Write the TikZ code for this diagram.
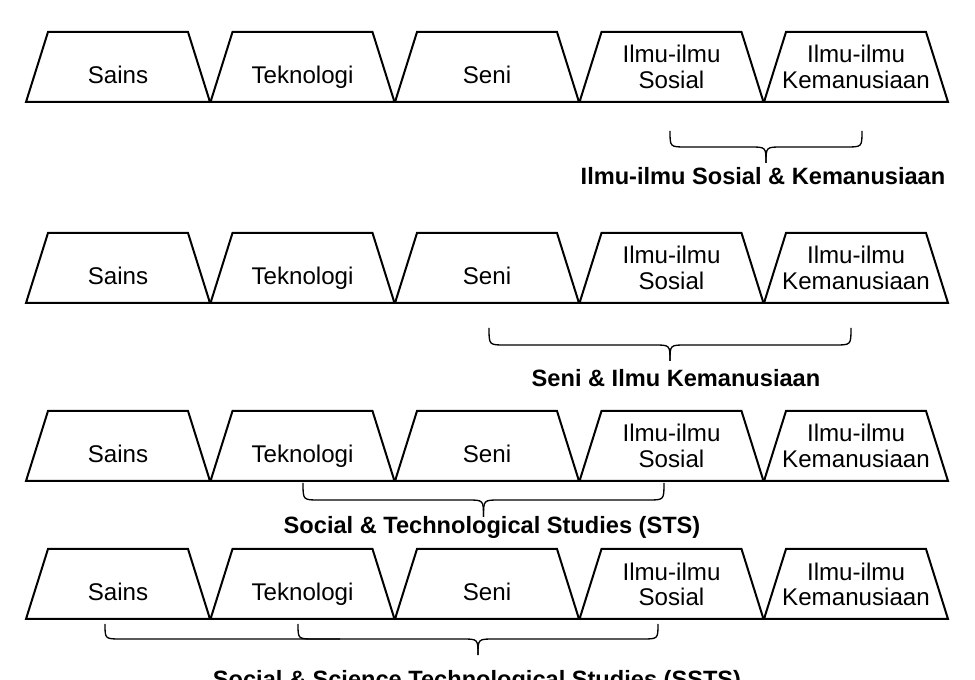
\documentclass[tikz,border=0pt]{standalone}
\usepackage{fontspec}
\setmainfont{Liberation Sans}
\newcommand\wordbrace[6]{% x1, x2, y0 (arm top), ym (horizontal), xm, yt (tip)
  \draw[brc] (#1,#3) .. controls (#1,#4) .. ({#1+16},#4) -- ({#5-16},#4) .. controls (#5,#4) .. (#5,#6);
  \draw[brc] (#2,#3) .. controls (#2,#4) .. ({#2-16},#4) -- ({#5+16},#4) .. controls (#5,#4) .. (#5,#6);
}
\begin{document}
\begin{tikzpicture}[x=0.75pt,y=-0.75pt,
  trap/.style={line width=1.5pt, line join=miter},
  lbl/.style={font=\fontsize{18.1}{19.5}\selectfont, inner sep=0pt, align=center, anchor=base},
  captxt/.style={font=\fontsize{17.7}{20}\selectfont\bfseries, inner sep=0pt, anchor=base},
  brc/.style={line width=1pt}]
\clip (0,0) rectangle (975,680);
\fill[white] (0,0) rectangle (975,680);
\foreach \r/\t in {1/32,2/233,3/411,4/549} {
  \foreach \i/\txt/\two in {1/Sains/0, 2/Teknologi/0, 3/Seni/0, 4/{Ilmu-ilmu\\Sosial}/1, 5/{Ilmu-ilmu\\Kemanusiaan}/1} {
    \pgfmathsetmacro\xl{26+184.5*(\i-1)}
    \pgfmathsetmacro\ty{\t+52+5*\two}
    \draw[trap] (\xl,\t+70) -- (\xl+22,\t) -- (\xl+162,\t) -- (\xl+184,\t+70) -- cycle;
    \node[lbl] (r\r-\i) at (\xl+92,\ty) {\txt};
  }
}
% braces
\wordbrace{670}{862}{131}{147}{766}{163}
\wordbrace{489}{851}{328}{345}{670}{361}
\wordbrace{303}{664}{483}{500}{483.5}{517}
\wordbrace{298}{658}{624}{639}{478}{655}
\draw[brc] (105,624) .. controls (105,639) .. (121,639) -- (340,639);
% captions
\node[captxt] (c1) at (763,185) {Ilmu-ilmu Sosial \& Kemanusiaan};
\node[captxt] (c2) at (676,387) {Seni \& Ilmu Kemanusiaan};
\node[captxt] (c3) at (492,534) {Social \& Technological Studies (STS)};
\node[captxt] (c4) at (477,687) {Social \& Science Technological Studies (SSTS)};
\end{tikzpicture}
\end{document}
